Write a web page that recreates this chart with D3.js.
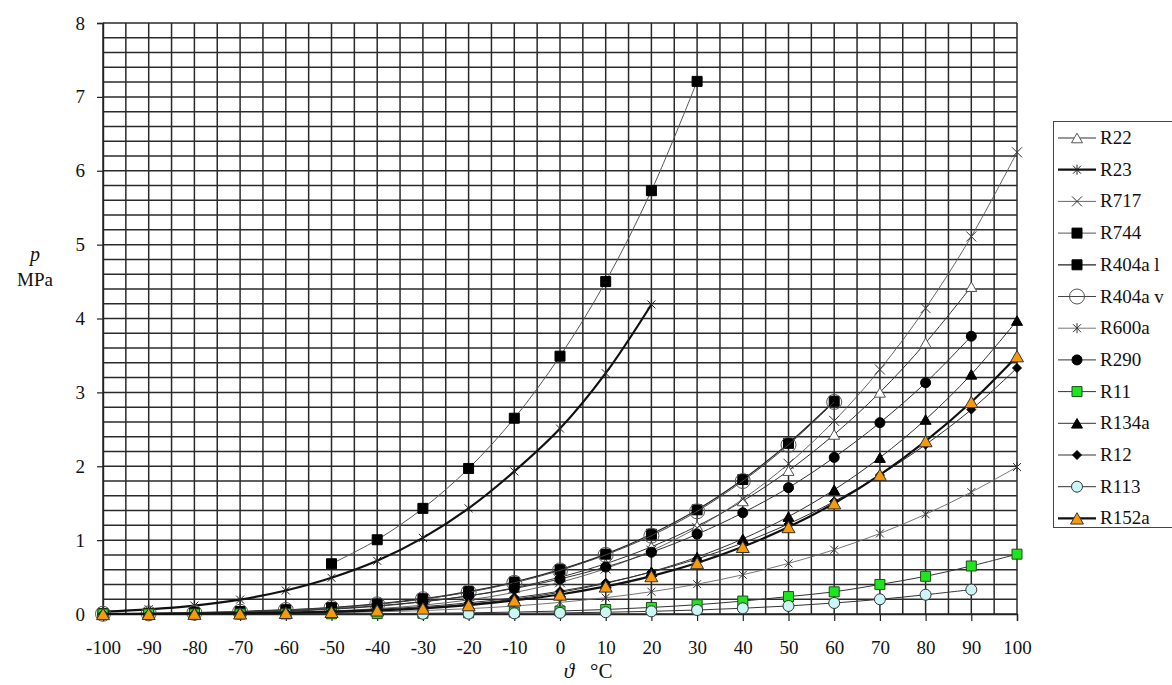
<!DOCTYPE html>
<html><head><meta charset="utf-8">
<script src="https://cdn.jsdelivr.net/npm/d3@7"></script>
<style>
  body { margin: 0; background: #fff; }
  svg, svg text { font-family: "Times New Roman", "Liberation Serif", "DejaVu Serif", serif; }
  svg  { display: block; }
</style></head>
<body>
<svg id="c" width="1172" height="685"></svg>
<script>
// temperatures, deg C
const temps  = [-100, -90, -80, -70, -60, -50, -40, -30, -20, -10, 0, 10, 20, 30, 40, 50, 60, 70, 80, 90, 100];
const xTicks = [-100, -90, -80, -70, -60, -50, -40, -30, -20, -10, 0, 10, 20, 30, 40, 50, 60, 70, 80, 90, 100];
const yTicks = [0, 1, 2, 3, 4, 5, 6, 7, 8];

// saturation pressure, MPa (null = no point)
const R22    = [0.002, 0.005, 0.010, 0.020, 0.037, 0.064, 0.105, 0.164, 0.245, 0.355, 0.498, 0.681, 0.910, 1.19, 1.53, 1.94, 2.43, 3.00, 3.67, 4.43, null];
const R23    = [0.032, 0.063, 0.114, 0.195, 0.318, 0.49, 0.72, 1.03, 1.43, 1.93, 2.51, 3.26, 4.19, null, null, null, null, null, null, null, null];
const R717   = [null, null, null, 0.011, 0.022, 0.041, 0.072, 0.120, 0.190, 0.291, 0.429, 0.615, 0.857, 1.167, 1.555, 2.033, 2.614, 3.31, 4.14, 5.11, 6.25];
const R744   = [null, null, null, null, null, 0.68, 1.005, 1.43, 1.97, 2.65, 3.49, 4.50, 5.73, 7.21, null, null, null, null, null, null, null];
const R404aL = [0.004, 0.009, 0.018, 0.034, 0.058, 0.086, 0.136, 0.207, 0.304, 0.433, 0.60, 0.81, 1.08, 1.41, 1.82, 2.31, 2.88, null, null, null, null];
const R404aV = [0.003, 0.008, 0.016, 0.031, 0.054, 0.082, 0.131, 0.200, 0.295, 0.422, 0.59, 0.80, 1.06, 1.39, 1.80, 2.29, 2.87, null, null, null, null];
const R600a  = [0.0005, 0.0013, 0.0029, 0.0057, 0.0105, 0.018, 0.029, 0.046, 0.072, 0.108, 0.157, 0.221, 0.302, 0.404, 0.531, 0.685, 0.870, 1.09, 1.35, 1.65, 1.99];
const R290   = [0.0029, 0.0065, 0.013, 0.025, 0.043, 0.070, 0.111, 0.168, 0.245, 0.345, 0.474, 0.636, 0.836, 1.08, 1.37, 1.71, 2.12, 2.59, 3.13, 3.76, null];
const R11    = [0.00004, 0.0001, 0.0002, 0.0006, 0.0014, 0.0029, 0.0055, 0.0097, 0.016, 0.026, 0.040, 0.061, 0.089, 0.126, 0.175, 0.236, 0.30, 0.40, 0.51, 0.65, 0.81];
const R134a  = [0.0006, 0.0015, 0.0037, 0.008, 0.016, 0.030, 0.051, 0.084, 0.133, 0.201, 0.293, 0.415, 0.572, 0.770, 1.017, 1.318, 1.682, 2.117, 2.633, 3.244, 3.972];
const R12    = [0.001, 0.003, 0.006, 0.012, 0.023, 0.039, 0.064, 0.100, 0.151, 0.219, 0.309, 0.423, 0.567, 0.745, 0.961, 1.219, 1.524, 1.880, 2.293, 2.767, 3.33];
const R113   = [null, null, null, null, null, null, null, 0.003, 0.005, 0.009, 0.015, 0.024, 0.036, 0.054, 0.078, 0.109, 0.149, 0.199, 0.261, 0.33, null];
const R152a  = [0.0006, 0.0017, 0.004, 0.0084, 0.016, 0.029, 0.049, 0.075, 0.120, 0.184, 0.264, 0.373, 0.513, 0.690, 0.909, 1.177, 1.499, 1.884, 2.34, 2.87, 3.49];

const names  = ['R22', 'R23', 'R717', 'R744', 'R404a l', 'R404a v', 'R600a', 'R290', 'R11', 'R134a', 'R12', 'R113', 'R152a'];
const values = [R22, R23, R717, R744, R404aL, R404aV, R600a, R290, R11, R134a, R12, R113, R152a];

// line + marker look per series
const look = {
  'R22':     { lw: 1,   lc: '#333', m: 'tri',  s: 11, fill: '#fff',    sc: '#555' },
  'R23':     { lw: 2.2, lc: '#111', m: 'star', s: 10, fill: 'none',    sc: '#222' },
  'R717':    { lw: 0.9, lc: '#555', m: 'x',    s: 10, fill: 'none',    sc: '#333' },
  'R744':    { lw: 1,   lc: '#555', m: 'sq',   s: 10, fill: '#000',    sc: '#000' },
  'R404a l': { lw: 1.2, lc: '#222', m: 'sq',   s: 10, fill: '#000',    sc: '#000' },
  'R404a v': { lw: 1,   lc: '#444', m: 'circ', s: 15, fill: 'none',    sc: '#555' },
  'R600a':   { lw: 0.9, lc: '#666', m: 'star', s: 10, fill: 'none',    sc: '#333' },
  'R290':    { lw: 1,   lc: '#333', m: 'circ', s: 10, fill: '#000',    sc: '#000' },
  'R11':     { lw: 1,   lc: '#333', m: 'sq',   s: 10, fill: '#1ee61e', sc: '#1a4d1a' },
  'R134a':   { lw: 1,   lc: '#333', m: 'tri',  s: 11, fill: '#000',    sc: '#000' },
  'R12':     { lw: 1,   lc: '#333', m: 'dia',  s: 9,  fill: '#000',    sc: '#000' },
  'R113':    { lw: 1,   lc: '#333', m: 'circ', s: 11, fill: '#ccf6f6', sc: '#333' },
  'R152a':   { lw: 2.2, lc: '#111', m: 'tri',  s: 13, fill: '#f7990a', sc: '#333' }
};

function mk(type, s) {
  const a = s / 2;
  switch (type) {
    case 'sq':   return `M${-a},${-a}h${s}v${s}h${-s}Z`;
    case 'tri':  { const h = s * 0.87; return `M0,${-h / 2}L${a},${h / 2}L${-a},${h / 2}Z`; }
    case 'dia':  return `M0,${-a}L${a},0L0,${a}L${-a},0Z`;
    case 'circ': return `M${a},0A${a},${a} 0 1,1 ${-a},0A${a},${a} 0 1,1 ${a},0Z`;
    case 'x':    return `M${-a},${-a}L${a},${a}M${-a},${a}L${a},${-a}`;
    case 'star': return `M${-a * .8},${-a * .8}L${a * .8},${a * .8}M${-a * .8},${a * .8}L${a * .8},${-a * .8}M0,${-a}L0,${a}`;
  }
}

const FONT = '"Times New Roman", "Liberation Serif", "DejaVu Serif", serif';
const svg = d3.select('#c');
const x = d3.scaleLinear().domain([-100, 100]).range([103, 1017]);
const y = d3.scaleLinear().domain([0, 8]).range([614, 23]);

// grid: 5 deg by 0.2 MPa
const grid = svg.append('g').attr('stroke', '#2a2a2a').attr('stroke-width', 1.5);
d3.range(-100, 100.1, 5).forEach(t => grid.append('line').attr('x1', x(t)).attr('x2', x(t)).attr('y1', y(0)).attr('y2', y(8)));
d3.range(0, 40.5, 1).forEach(k => grid.append('line').attr('x1', x(-100)).attr('x2', x(100)).attr('y1', y(k * 0.2)).attr('y2', y(k * 0.2)));

// axes
const ax = svg.append('g').attr('transform', `translate(0,${y(0)})`)
  .call(d3.axisBottom(x).tickValues(xTicks).tickSize(7).tickPadding(20).tickFormat(d => d));
const ay = svg.append('g').attr('transform', `translate(${x(-100)},0)`)
  .call(d3.axisLeft(y).tickValues(yTicks).tickSize(6).tickPadding(12).tickFormat(d => d));
[ax, ay].forEach(g => {
  g.attr('font-family', FONT);
  g.select('.domain').attr('stroke', '#222').attr('stroke-width', 1.4);
  g.selectAll('.tick line').attr('stroke', '#222').attr('stroke-width', 1.2);
  g.selectAll('text').attr('font-family', FONT).attr('font-size', 19).attr('fill', '#111');
});

const t = svg.append('g').attr('font-family', FONT).attr('fill', '#111');
t.append('text').attr('x', 35).attr('y', 261).attr('text-anchor', 'middle')
  .attr('font-size', 20).attr('font-style', 'italic').text('p');
t.append('text').attr('x', 35).attr('y', 286).attr('text-anchor', 'middle')
  .attr('font-size', 19).text('MPa');
t.append('text').attr('x', 569).attr('y', 678).attr('text-anchor', 'middle').attr('font-size', 21)
  .attr('font-style', 'italic').text('ϑ');
t.append('text').attr('x', 590).attr('y', 678).attr('font-size', 21).text('°C');

// series
const line = d3.line().x(d => x(d.t)).y(d => y(d.v)).curve(d3.curveCatmullRom.alpha(0.5));
names.forEach((n, i) => {
  const L = look[n];
  const pts = temps.map((t, j) => ({ t, v: values[i][j] })).filter(d => d.v != null);
  const g = svg.append('g');
  g.append('path').datum(pts).attr('d', line).attr('fill', 'none')
    .attr('stroke', L.lc).attr('stroke-width', L.lw);
  g.selectAll('path.m').data(pts).join('path').attr('class', 'm')
    .attr('transform', d => `translate(${x(d.t)},${y(d.v)})`)
    .attr('d', mk(L.m, L.s)).attr('fill', L.fill).attr('stroke', L.sc).attr('stroke-width', 1);
});

// legend
const lg = svg.append('g').attr('font-family', FONT);
lg.append('rect').attr('x', 1053.5).attr('y', 121.5).attr('width', 140).attr('height', 406)
  .attr('fill', '#fff').attr('stroke', '#444');
names.forEach((n, i) => {
  const L = look[n], yy = 138 + i * 31.7;
  lg.append('line').attr('x1', 1058).attr('x2', 1096).attr('y1', yy).attr('y2', yy)
    .attr('stroke', L.lc).attr('stroke-width', L.lw);
  lg.append('path').attr('transform', `translate(1077,${yy})`).attr('d', mk(L.m, L.s))
    .attr('fill', L.fill).attr('stroke', L.sc).attr('stroke-width', 1);
  lg.append('text').attr('x', 1100).attr('y', yy + 6).attr('font-size', 19).attr('fill', '#111').text(n);
});
</script>
</body></html>
